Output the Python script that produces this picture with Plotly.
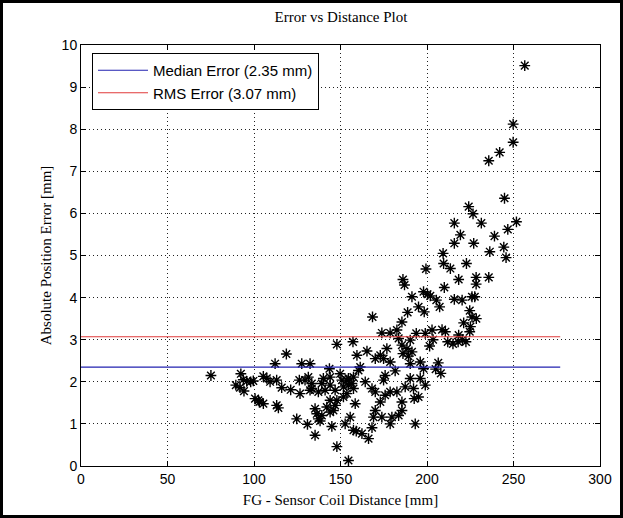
import plotly.graph_objects as go

# ---- data ----
dist_a = [75.1, 89.5, 91.9, 92.4, 93.8, 94.2, 95.8, 98.1, 99.6, 100.6,
          102.5, 103.1, 105.4, 105.4, 107.4, 109.3, 112.2, 113.1, 113.1, 114.1,
          116.0, 118.7, 121.2, 124.7, 126.2, 126.6, 127.6, 129.5, 130.9, 131.4,
          132.4, 132.4, 133.4, 133.4, 135.3, 135.3, 136.3, 137.2, 137.2, 138.2,
          139.2, 139.2, 140.1, 141.1, 142.1, 143.6, 144.0, 144.0, 144.0, 144.0,
          145.0, 145.9, 146.9]
err_a = [2.15, 1.92, 1.86, 2.19, 2.05, 1.78, 2.01, 2.00, 2.02, 1.60,
         1.56, 1.52, 1.48, 2.13, 2.08, 2.00, 2.43, 2.04, 1.44, 1.38,
         1.86, 2.66, 1.81, 1.12, 2.04, 1.72, 2.43, 2.04, 0.99, 2.11,
         2.43, 1.80, 1.84, 1.96, 1.36, 0.73, 1.24, 1.12, 1.76, 1.07,
         1.20, 1.96, 2.08, 1.80, 1.40, 2.31, 1.92, 1.56, 2.11, 1.28,
         0.94, 1.32, 1.44]

dist_b = [146.9, 147.9, 147.9, 147.9, 149.8, 150.8, 151.7, 151.7, 152.7, 153.7,
          153.7, 154.6, 154.6, 154.6, 155.6, 156.6, 157.2, 157.5, 157.5, 157.5,
          158.5, 159.1, 159.5, 160.4, 161.4, 162.4, 164.3, 165.3, 166.2, 168.2,
          168.2, 169.1, 170.1, 170.1, 170.1, 173.0, 173.0, 173.9, 173.9, 174.9,
          174.9, 175.8, 175.8, 176.8, 178.7, 178.7, 178.7, 178.7, 179.7, 181.6,
          182.6, 182.6, 183.6, 183.6, 185.5, 185.5, 185.5, 185.5, 186.1, 187.4,
          188.4, 189.3, 190.3, 190.3, 190.3, 191.3, 192.2, 192.6, 193.2, 193.8,
          195.1, 196.1, 196.1, 198.0, 199.0, 199.0]
err_b = [1.80, 1.56, 2.89, 0.46, 2.19, 2.04, 1.88, 1.64, 1.00, 1.72,
         2.04, 2.08, 0.13, 1.92, 1.16, 1.96, 2.95, 2.11, 0.85, 1.84,
         1.48, 0.83, 2.63, 2.27, 2.35, 0.77, 2.00, 2.73, 0.65, 1.84,
         0.91, 1.16, 2.55, 1.76, 1.32, 2.63, 1.52, 3.16, 1.16, 2.55,
         2.04, 2.15, 1.68, 2.79, 3.16, 2.47, 1.76, 1.00, 1.16, 2.26,
         3.23, 1.76, 3.03, 1.20, 3.42, 2.87, 1.52, 1.32, 2.67, 1.88,
         2.79, 2.61, 2.43, 2.08, 2.99, 2.71, 1.84, 1.60, 1.00, 3.15,
         1.64, 2.47, 2.08, 2.31, 3.15, 1.92]

dist_c = [168.5, 188.8, 195.1, 198.4, 201.5, 203.5, 205.0, 206.5, 208.0,
          202.9, 208.7, 210.6, 212.0, 215.0, 218.0, 220.5, 222.5, 218.3, 224.7,
          225.1, 221.2, 226.0, 228.5, 224.7, 207.3, 205.4, 201.9, 200.3, 198.0,
          191.3, 215.8, 220.3, 226.0, 227.6, 210.0, 187.0, 186.1, 218.3, 228.4,
          228.4, 235.7, 199.4, 213.5, 209.6, 222.8, 209.3, 236.3, 215.8, 227.0,
          219.3, 215.8, 231.4, 226.6, 224.1, 244.8, 235.7, 242.0, 249.8, 249.8,
          256.5, 251.7, 246.7, 239.0, 244.4, 245.7]
err_c = [3.54, 3.65, 3.78, 3.66, 2.85, 3.00, 2.30, 2.45, 2.20,
         3.23, 3.24, 3.19, 2.95, 2.90, 2.95, 3.00, 2.95, 3.11, 3.19,
         3.31, 3.40, 3.54, 3.50, 3.69, 3.78, 3.94, 4.04, 4.08, 4.14,
         4.02, 3.96, 3.94, 4.02, 4.02, 4.24, 4.30, 4.43, 4.43, 4.48,
         4.32, 4.48, 4.68, 4.69, 4.81, 4.81, 5.05, 5.09, 5.29, 5.29,
         5.49, 5.77, 5.77, 5.99, 6.16, 6.36, 7.25, 7.45, 7.69, 8.12,
         9.51, 5.80, 5.62, 5.46, 5.20, 4.95]

line_x = [0, 277]
median_err = 2.35
rms_err = 3.07
median_label = "Median Error (2.35 mm)"
rms_label = "RMS Error (3.07 mm)"

x_ticks = [0, 50, 100, 150, 200, 250, 300]
y_ticks = list(range(0, 11))

# ---- figure ----
W, H = 623, 518
ML, MR, MT, MB = 81, 23, 45, 52
PW, PH = W - ML - MR, H - MT - MB

fig = go.Figure()
fig.add_trace(go.Scatter(
    x=dist_a + dist_b + dist_c, y=err_a + err_b + err_c, mode="markers",
    marker=dict(symbol="asterisk-open", size=9, color="black",
                line=dict(color="black", width=1.4)),
    showlegend=False, hoverinfo="x+y"))
fig.add_trace(go.Scatter(
    x=line_x, y=[median_err] * len(line_x), mode="lines",
    line=dict(color="#2222b0", width=1.2), name=median_label))
fig.add_trace(go.Scatter(
    x=line_x, y=[rms_err] * len(line_x), mode="lines",
    line=dict(color="#e03a3a", width=1.2), name=rms_label))

tick_font = dict(family="Liberation Sans, Arial, sans-serif", size=14, color="black")
serif = dict(family="Liberation Serif, Times New Roman, serif", size=15, color="black")

axis_common = dict(
    showline=True, linecolor="black", linewidth=1, mirror="ticks",
    ticks="inside", ticklen=5, tickcolor="black", tickwidth=1,
    showgrid=True, gridcolor="#222222", gridwidth=1, griddash="1px,3px",
    zeroline=False, tickfont=tick_font)

fig.update_xaxes(range=[0, 300], tickvals=x_ticks,
                 title=dict(text="FG - Sensor Coil Distance [mm]", font=serif, standoff=8),
                 **axis_common)
fig.update_yaxes(range=[0, 10], tickvals=y_ticks,
                 title=dict(text="Absolute Position Error [mm]", font=serif, standoff=6),
                 **axis_common)

fx = lambda px: (px - ML) / PW
fy = lambda py: (H - MB - py) / PH

fig.update_layout(
    width=W, height=H,
    margin=dict(l=ML, r=MR, t=MT, b=MB, autoexpand=False),
    paper_bgcolor="white", plot_bgcolor="white",
    title=dict(text="Error vs Distance Plot", font=serif,
               x=fx(341), xanchor="center", xref="paper",
               y=1 - 17 / H, yanchor="middle", yref="container"),
    legend=dict(x=fx(92), y=fy(53), xanchor="left", yanchor="top",
                bgcolor="white", bordercolor="black", borderwidth=1,
                font=dict(family="Liberation Sans, Arial, sans-serif", size=15, color="black"),
                itemwidth=50),
    shapes=[dict(type="rect", xref="paper", yref="paper",
                 x0=fx(1.5), x1=fx(W - 1.5), y0=fy(H - 1.5), y1=fy(1.5),
                 line=dict(color="black", width=3), fillcolor="rgba(0,0,0,0)",
                 layer="above")],
)

fig.write_html("out.html")
